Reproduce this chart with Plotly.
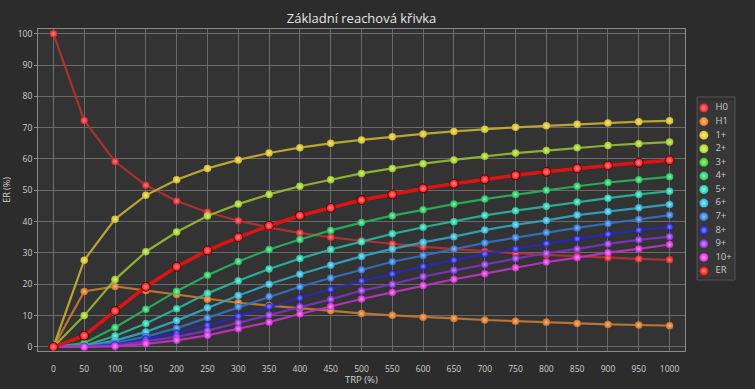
import plotly.graph_objects as go

trp = [0, 50, 100, 150, 200, 250, 300, 350, 400, 450, 500,
       550, 600, 650, 700, 750, 800, 850, 900, 950, 1000]

h0 = [100, 72.3, 59.2, 51.6, 46.6, 43.0, 40.3, 38.1, 36.4, 35.0, 33.9,
      32.9, 32.0, 31.2, 30.5, 29.9, 29.4, 28.9, 28.5, 28.1, 27.8]
h1 = [0, 17.7, 19.3, 18.0, 16.7, 15.2, 14.1, 13.2, 12.3, 11.6, 10.7,
      10.1, 9.5, 9.1, 8.6, 8.2, 7.9, 7.5, 7.2, 7.0, 6.8]
r1 = [0, 27.7, 40.8, 48.4, 53.4, 57.0, 59.7, 61.9, 63.6, 65.0, 66.1,
      67.1, 68.0, 68.8, 69.5, 70.1, 70.6, 71.1, 71.5, 71.9, 72.2]
r2 = [0, 10.0, 21.5, 30.4, 36.7, 41.8, 45.6, 48.7, 51.3, 53.4, 55.4,
      57.0, 58.5, 59.7, 60.9, 61.9, 62.7, 63.6, 64.3, 64.9, 65.4]
r3 = [0, 3.6, 11.5, 19.2, 25.6, 30.8, 35.0, 38.7, 41.9, 44.4, 46.9,
      48.7, 50.6, 52.1, 53.5, 54.8, 55.9, 57.0, 57.9, 58.8, 59.6]
r4 = [0, 1.2, 6.2, 12.0, 17.8, 22.9, 27.3, 31.1, 34.3, 37.2, 39.7,
      41.9, 43.8, 45.6, 47.2, 48.7, 50.0, 51.3, 52.5, 53.4, 54.3]
r5 = [0, 0.4, 3.5, 7.5, 12.2, 17.1, 21.1, 24.9, 28.2, 31.1, 33.6,
      36.1, 38.2, 40.0, 42.0, 43.5, 44.9, 46.3, 47.5, 48.7, 49.7]
r6 = [0, 0.2, 2.0, 4.8, 8.4, 12.5, 16.4, 20.0, 23.2, 26.1, 28.9,
      31.3, 33.4, 35.2, 37.3, 39.0, 40.4, 42.1, 43.2, 44.4, 45.5]
r7 = [0, 0.1, 1.2, 3.3, 6.0, 9.3, 12.8, 16.1, 19.2, 22.0, 24.6,
      27.2, 29.2, 31.3, 33.2, 34.9, 36.5, 38.0, 39.4, 40.7, 42.1]
r8 = [0, 0.1, 0.7, 2.5, 4.4, 6.9, 9.8, 12.9, 15.6, 18.4, 21.1,
      23.3, 25.7, 27.7, 29.7, 31.3, 33.0, 34.5, 36.0, 37.3, 38.3]
r9 = [0, 0.0, 0.4, 1.7, 3.2, 5.2, 7.7, 10.2, 12.8, 15.2, 18.0,
      20.0, 22.5, 24.5, 26.3, 28.2, 29.9, 31.3, 32.9, 34.2, 35.2]
r10 = [0, 0.0, 0.2, 1.0, 2.1, 3.7, 5.8, 7.9, 10.5, 12.9, 15.3,
       17.4, 19.6, 21.6, 23.4, 25.3, 27.1, 28.5, 30.1, 31.3, 32.7]
er = [0, 3.6, 11.5, 19.2, 25.6, 30.8, 35.0, 38.7, 41.9, 44.4, 46.9,
      48.7, 50.6, 52.1, 53.5, 54.8, 55.9, 57.0, 57.9, 58.8, 59.6]

names = ["H0", "H1", "1+", "2+", "3+", "4+", "5+", "6+", "7+", "8+", "9+", "10+", "ER"]
series = [h0, h1, r1, r2, r3, r4, r5, r6, r7, r8, r9, r10, er]
marker_colors = ["#e41e26", "#dc7422", "#dcc222", "#a2cf22", "#36c826", "#1cc455",
                 "#1ccaa2", "#24b2d4", "#2470d4", "#1c1ccc", "#8424d4", "#d424d4", "#ee0c0c"]
line_colors = ["#b43032", "#c47834", "#c4ae34", "#98b834", "#38b036", "#2ab05e",
               "#2ab49c", "#32a4c0", "#3270c0", "#2828bc", "#7a32c0", "#c032c0", "#dd1212"]
highlights = ["#ff8c8c", "#ffc080", "#fff08c", "#ddff8c", "#a0ff90", "#90ffc0",
              "#90ffee", "#a0ecff", "#98c4ff", "#8c8cff", "#cc9cff", "#ff9cff", "#ff8c8c"]

fig = go.Figure()

for i, (nm, ys) in enumerate(zip(names, series)):
    is_er = nm == "ER"
    fig.add_trace(go.Scatter(
        x=trp, y=ys, name=nm, mode="lines+markers", showlegend=False,
        line=dict(color=line_colors[i], width=3.6 if is_er else 2.2),
        opacity=1.0 if is_er else 0.93,
        marker=dict(size=9 if is_er else 7.5, color=marker_colors[i],
                    gradient=dict(type="radial", color=highlights[i]),
                    line=dict(color="#5a0000" if is_er else "rgba(0,0,0,0)", width=1 if is_er else 0)),
    ))

# compact legend drawn on a helper axis
leg_y = list(range(len(names)))[::-1]
fig.add_trace(go.Scatter(
    x=[0.18] * len(names), y=leg_y, mode="markers+text", text=["  " + n for n in names],
    textposition="middle right", textfont=dict(size=9.5, color="#c8c8c8", family="Open Sans"),
    marker=dict(size=9, color=marker_colors,
                gradient=dict(type="radial", color=highlights)),
    xaxis="x2", yaxis="y2", showlegend=False, hoverinfo="skip", cliponaxis=False,
))

fig.update_layout(
    width=755, height=389,
    margin=dict(l=38, r=4, t=29, b=38, autoexpand=False),
    paper_bgcolor="#2c2c2c",
    plot_bgcolor="#333333",
    font=dict(family="Open Sans", color="#d0d0d0", size=9),
    title=dict(text="Základní reachová křivka", x=0.4537, xanchor="center", xref="paper",
               y=0.953, yanchor="middle", font=dict(size=13, color="#e6e6e6", family="Open Sans")),
    xaxis=dict(domain=[0, 0.9074], range=[-25, 1025], tickmode="array", tickvals=trp,
               ticktext=[str(v) for v in trp], showgrid=True, gridcolor="#6a6a6a", gridwidth=1,
               zeroline=False, showline=True, linecolor="#8a8a8a", mirror=True,
               ticks="outside", ticklen=10, tickcolor="rgba(0,0,0,0)", automargin=False,
               tickfont=dict(size=8.5, color="#d0d0d0")),
    yaxis=dict(range=[-1.3, 101.5], tickmode="array", tickvals=list(range(0, 101, 10)),
               showgrid=True, gridcolor="#6a6a6a", gridwidth=1,
               zeroline=False, showline=True, linecolor="#8a8a8a", mirror=True,
               ticks="outside", ticklen=3, tickcolor="#8a8a8a", automargin=False,
               tickfont=dict(size=8.5, color="#d0d0d0"),
               title=dict(text="ER (%)", font=dict(size=9, color="#d0d0d0"))),
    xaxis2=dict(domain=[0.9243, 0.9776], range=[0, 1], visible=False, fixedrange=True),
    yaxis2=dict(domain=[0.2273, 0.7758], range=[-0.5, 12.5], visible=False, fixedrange=True),
    annotations=[
        dict(text="TRP (%)", xref="paper", yref="paper", x=0.4537, y=-0.087,
             xanchor="center", yanchor="middle", showarrow=False,
             font=dict(size=9.5, color="#d0d0d0")),
    ],
    shapes=[
        dict(type="rect", xref="paper", yref="paper", x0=0.9243, x1=0.9776,
             y0=0.2205, y1=0.789, line=dict(color="#555555", width=1),
             fillcolor="rgba(255,255,255,0.02)", layer="below"),
    ],
)

fig.write_html(
    "out.html",
    config={"displayModeBar": False},
    post_script="document.body.style.margin='0';document.body.style.background='#2c2c2c';",
)
